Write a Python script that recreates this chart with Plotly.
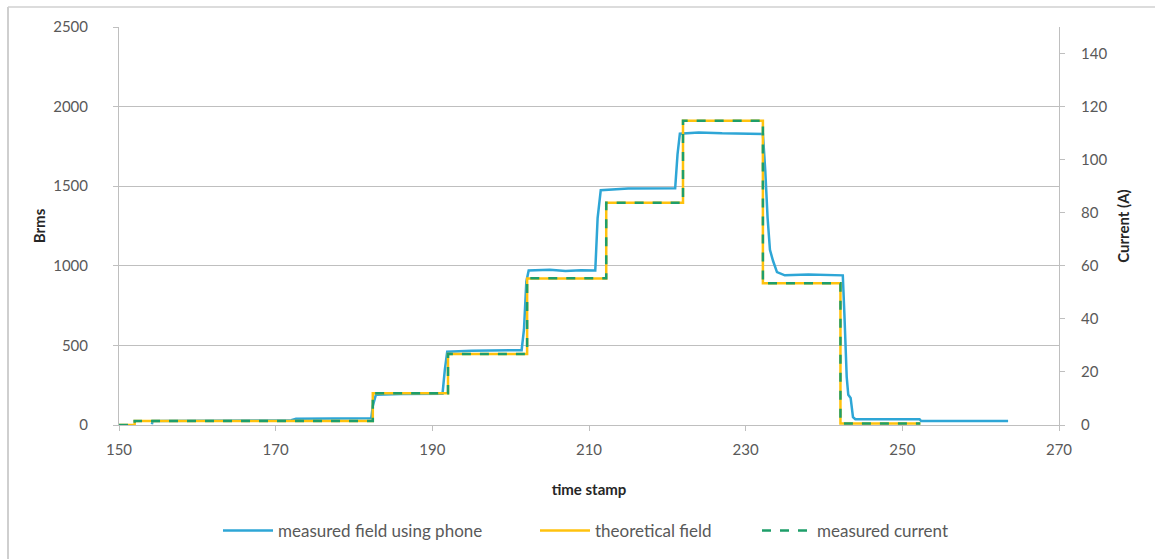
import plotly.graph_objects as go

# Theoretical field (Brms) and measured current (A): step data
step_time = [150, 152, 182.4, 192.0, 202.1, 212.2, 222.0, 232.2, 242.1, 252.3]
theory_field = [0, 25, 200, 446, 921, 1396, 1911, 890, 10, 10]
current_A = [0, 1.5, 12, 26.8, 55.3, 83.8, 114.7, 53.4, 0.6, 0.6]

# Measured field using phone (Brms)
meas_time = [154.2, 154.3, 160, 168, 172, 172.6, 178, 182.2, 182.4, 182.6, 182.8, 186,
             191.3, 191.6, 191.9, 195, 201.4, 201.7, 202.0, 202.3, 205, 207, 209, 210.8,
             211.1, 211.5, 215, 221.0, 221.3, 221.6, 224, 227, 230, 232.2, 232.5, 232.8,
             233.1, 233.5, 234.0, 235, 238, 242.4, 242.6, 242.9, 243.1, 243.4, 243.7, 244,
             252.2, 252.4, 263.5]
meas_field = [5, 25, 27, 28, 30, 40, 40, 42, 120, 160, 190, 195,
              197, 350, 460, 467, 470, 600, 900, 970, 975, 968, 972, 970,
              1300, 1475, 1485, 1487, 1700, 1830, 1838, 1832, 1830, 1828, 1600, 1300,
              1100, 1030, 960, 940, 945, 940, 700, 300, 190, 170, 50, 36,
              36, 25, 25]

x_ticks = [150, 170, 190, 210, 230, 250, 270]

FONT = "Lato"
GREY = "#595959"
DARK = "#262626"

fig = go.Figure()
fig.add_trace(go.Scatter(x=meas_time, y=meas_field, mode="lines",
                         name="measured field using phone", legend="legend",
                         line=dict(color="#2EA6D6", width=2.5)))
fig.add_trace(go.Scatter(x=step_time, y=theory_field, mode="lines",
                         name="theoretical field", line_shape="hv", legend="legend2",
                         line=dict(color="#FFC20E", width=2.5)))
fig.add_trace(go.Scatter(x=step_time, y=current_A, mode="lines", yaxis="y2",
                         name="measured current", line_shape="hv", legend="legend3",
                         line=dict(color="#1E9E6A", width=2.5, dash="dash")))

def px_x(p):
    return (p - 119) / 940

def px_y(p):
    return (425 - p) / 398

leg_common = dict(orientation="h", yanchor="middle", xanchor="left", y=px_y(531),
                  font=dict(size=17, color=GREY), itemwidth=50,
                  bgcolor="rgba(0,0,0,0)")

fig.update_layout(
    width=1155, height=559,
    margin=dict(l=119, r=96, t=27, b=134, autoexpand=False),
    paper_bgcolor="white", plot_bgcolor="white",
    font=dict(family=FONT, size=15, color=GREY),
    showlegend=True,
    legend=dict(x=px_x(218), **leg_common),
    legend2=dict(x=px_x(535), **leg_common),
    legend3=dict(x=px_x(757), **leg_common),
    xaxis=dict(range=[150, 270], tickvals=x_ticks, showgrid=False, zeroline=False,
               showline=True, linecolor="#BFBFBF", linewidth=1,
               ticks="outside", ticklen=5, tickcolor="#BFBFBF", ticklabelstandoff=6,
               tickfont=dict(size=15, color=GREY),
               title=dict(text="<b>time stamp</b>", font=dict(size=15, color=DARK),
                          standoff=27)),
    yaxis=dict(range=[0, 2500], dtick=500, showgrid=True, gridcolor="#BFBFBF",
               gridwidth=1, zeroline=False, showline=True, linecolor="#BFBFBF",
               ticks="outside", ticklen=5, tickcolor="#BFBFBF", ticklabelstandoff=22,
               tickfont=dict(size=15, color=GREY),
               title=dict(text="<b>Brms</b>", font=dict(size=15, color=DARK),
                          standoff=3)),
    yaxis2=dict(range=[0, 150], tickvals=[0, 20, 40, 60, 80, 100, 120, 140],
                overlaying="y", side="right", showgrid=False, zeroline=False,
                showline=True, linecolor="#BFBFBF",
                ticks="outside", ticklen=5, tickcolor="#BFBFBF", ticklabelstandoff=13,
                tickfont=dict(size=15, color=GREY),
                title=dict(text="<b>Current (A)</b>", font=dict(size=15, color=DARK),
                           standoff=12)),
)

# chart outer border (left and top edges visible)
x_left = px_x(8)
y_top = px_y(7)
fig.add_shape(type="line", xref="paper", yref="paper", x0=x_left, x1=x_left,
              y0=-2, y1=y_top, line=dict(color="#BFBFBF", width=1.5), layer="below")
fig.add_shape(type="line", xref="paper", yref="paper", x0=x_left, x1=2,
              y0=y_top, y1=y_top, line=dict(color="#D0D0D0", width=1.5), layer="below")

fig.write_html("out.html")
